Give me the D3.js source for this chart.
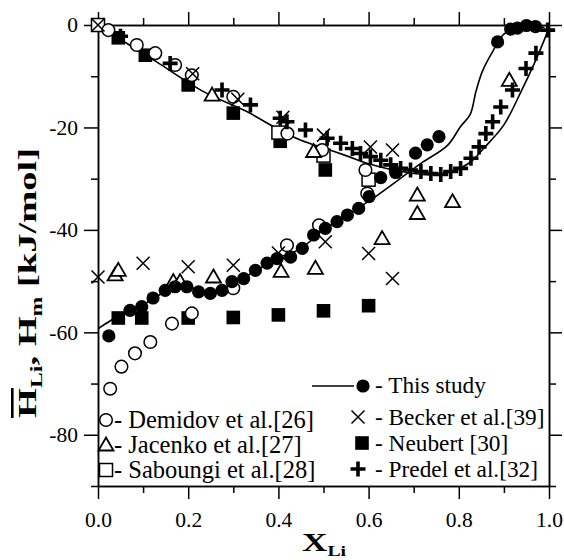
<!DOCTYPE html>
<html><head><meta charset="utf-8">
<script src="https://cdn.jsdelivr.net/npm/d3@7"></script>
<style>
body{margin:0;background:#fff}
svg{display:block}
svg text{font-family:"Liberation Serif","Times New Roman","DejaVu Serif",serif !important;fill:#000}
</style>
</head><body>
<svg id="c" width="564" height="560"></svg>
<script>
// ---------- data ----------
const xTickLabels = [0.0, 0.2, 0.4, 0.6, 0.8, 1.0];
const xMinorTicks = [0.1, 0.3, 0.5, 0.7, 0.9];
const yTickLabels = [0, -20, -40, -60, -80];
const yMinorTicks = [-10, -30, -50, -70, -90];

// This study: integral enthalpy line
const studyIntegralLine = [[0,0],[0.05,-2.8],[0.1,-5.6],[0.13,-7.2],[0.234,-13],[0.33,-16.9],[0.39,-19.9],
  [0.45,-22.5],[0.5,-24],[0.553,-25.6],[0.6,-27.1],[0.65,-28.2],[0.7,-29],[0.75,-29.2],[0.79,-28.4],
  [0.827,-26.7],[0.856,-24],[0.9,-19.5],[0.938,-13],[0.97,-7],[0.997,-1.3]];
// This study: partial enthalpy of Li line
const studyPartialLine = [[0,-59.3],[0.03,-57.6],[0.07,-55.6],[0.1,-54.6],[0.13,-53],[0.17,-51.3],[0.2,-51.2],
  [0.24,-52],[0.28,-51.5],[0.32,-49.5],[0.36,-47.5],[0.4,-45.5],[0.45,-43.6],[0.5,-40],[0.55,-37.3],
  [0.6,-34.4],[0.62,-33.2],[0.67,-30],[0.716,-27],[0.775,-23.5],[0.804,-19.8],[0.825,-17.5],[0.838,-13],
  [0.852,-9.1],[0.875,-5.2],[0.9,-1.8],[0.93,-0.6],[0.96,-0.1],[0.99,-0.5]];
// This study: measured partial enthalpies (filled circles)
const studyPoints = [[0.024,-60.7],[0.071,-55.7],[0.097,-55.0],[0.122,-53.3],[0.149,-51.8],[0.171,-51.1],
  [0.197,-51.1],[0.223,-52.1],[0.249,-52.4],[0.275,-51.8],[0.297,-50.1],[0.323,-49.5],[0.349,-47.9],
  [0.375,-46.5],[0.397,-45.6],[0.427,-45.3],[0.453,-43.6],[0.478,-41.0],[0.504,-39.7],[0.530,-38.4],
  [0.553,-37.1],[0.578,-35.8],[0.601,-33.5],[0.627,-29.8],[0.66,-28.8],[0.704,-25.0],[0.73,-23.4],
  [0.756,-21.8],[0.886,-3.3],[0.915,-0.8],[0.93,-0.6],[0.95,-0.1],[0.97,-0.3]];
const demidov = [[0.023,-1],[0.086,-3.9],[0.127,-5.5],[0.171,-7.8],[0.208,-9.8],[0.3,-14],[0.42,-21.2],
  [0.497,-24.4],[0.593,-28.3],
  [0.027,-71],[0.052,-66.7],[0.082,-64.1],[0.116,-61.9],[0.164,-58.3],[0.208,-56.3],[0.3,-51.4],
  [0.419,-43],[0.49,-39.1],[0.597,-32.9]];
const jacenko = [[0.253,-13.7],[0.478,-24.7],[0.912,-10.8],
  [0.038,-48.8],[0.045,-47.9],[0.167,-50.1],[0.182,-50.1],[0.256,-49.2],[0.406,-48.1],[0.482,-47.5],
  [0.63,-41.7],[0.708,-33.2],[0.708,-36.8],[0.786,-34.5]];
const saboungi = [[0,0],[0.4,-21],[0.5,-25.5],[0.6,-30.2]];
const becker = [[0,0],[0.21,-9.5],[0.31,-14.5],[0.41,-18],[0.5,-21.5],[0.604,-23.8],[0.653,-24.4],
  [0,-49.2],[0.1,-46.5],[0.2,-47.2],[0.3,-46.9],[0.4,-44.5],[0.504,-42.3],[0.6,-44.6],[0.653,-49.5]];
const neubert = [[0.045,-2.5],[0.105,-5.9],[0.2,-11.7],[0.3,-17.2],[0.404,-22.7],[0.504,-28.3],
  [0.045,-57.2],[0.097,-57.2],[0.2,-57.2],[0.3,-57.1],[0.4,-56.6],[0.5,-55.8],[0.6,-54.8]];
const predel = [[0.05,-2.2],[0.16,-7.5],[0.275,-12.7],[0.338,-15.6],[0.404,-18.2],[0.419,-18.9],[0.46,-20.5],
  [0.508,-22.1],[0.538,-23.1],[0.564,-24.1],[0.582,-25.1],[0.604,-25.7],[0.627,-26.4],[0.649,-27.3],
  [0.671,-28],[0.693,-28.3],[0.716,-28.6],[0.738,-29],[0.76,-29.2],[0.782,-28.6],[0.804,-28],[0.827,-26],
  [0.845,-23.8],[0.86,-21.2],[0.875,-18.9],[0.893,-16],[0.919,-12.7],[0.949,-8.5],[0.971,-5.5],[0.997,-1]];

const legendLeft = ["- Demidov et al.[26]", "- Jacenko et al.[27]", "- Saboungi et al.[28]"];
const legendRight = ["- This study", "- Becker et al.[39]", "- Neubert [30]", "- Predel et al.[32]"];

// ---------- layout ----------
const FONT = '"Liberation Serif","Times New Roman","DejaVu Serif",serif';
const L = 98, R = 549, T = 25, B = 486;
const svg = d3.select("#c");
const x = d3.scaleLinear().domain([0, 1]).range([L, R]);
const y = d3.scaleLinear().domain([0, -90]).range([T, B]);

function styleAxis(g){ g.attr("font-family",FONT); g.selectAll("path,line").attr("stroke","#000").attr("stroke-width",1.5); }
const fs = 21.5;
svg.append("g").attr("transform",`translate(0,${B})`)
  .call(d3.axisBottom(x).tickValues(xTickLabels).tickSize(13).tickSizeOuter(0).tickPadding(13).tickFormat(d3.format(".1f")))
  .call(styleAxis).call(g=>g.selectAll("text").attr("font-size",fs));
svg.append("g").attr("transform",`translate(0,${B})`)
  .call(d3.axisBottom(x).tickValues(xMinorTicks).tickSize(7).tickSizeOuter(0).tickFormat(""))
  .call(styleAxis);
svg.append("g").attr("transform",`translate(0,${T})`)
  .call(d3.axisTop(x).tickValues(xTickLabels).tickSize(13).tickSizeOuter(0).tickFormat(""))
  .call(styleAxis);
svg.append("g").attr("transform",`translate(0,${T})`)
  .call(d3.axisTop(x).tickValues(xMinorTicks).tickSize(7).tickSizeOuter(0).tickFormat(""))
  .call(styleAxis);
svg.append("g").attr("transform",`translate(${L},0)`)
  .call(d3.axisLeft(y).tickValues(yTickLabels).tickSize(14).tickSizeOuter(0).tickPadding(6).tickFormat(d3.format("d")))
  .call(styleAxis).call(g=>g.selectAll("text").attr("font-size",fs));
svg.append("g").attr("transform",`translate(${L},0)`)
  .call(d3.axisLeft(y).tickValues(yMinorTicks).tickSize(7).tickSizeOuter(0).tickFormat(""))
  .call(styleAxis);
svg.append("g").attr("transform",`translate(${R},0)`)
  .call(d3.axisRight(y).tickValues(yTickLabels).tickSize(13).tickSizeOuter(0).tickFormat(""))
  .call(styleAxis);
svg.append("g").attr("transform",`translate(${R},0)`)
  .call(d3.axisRight(y).tickValues(yMinorTicks).tickSize(7).tickSizeOuter(0).tickFormat(""))
  .call(styleAxis);
svg.selectAll(".tick text").text(function(){ return this.textContent.replace("\u2212","-"); });

// lines
const lineP = d3.line().x(d=>x(d[0])).y(d=>y(d[1])).curve(d3.curveCatmullRom.alpha(0.5));
svg.append("path").datum(studyIntegralLine).attr("d",lineP).attr("fill","none").attr("stroke","#000").attr("stroke-width",1.6);
svg.append("path").datum(studyPartialLine).attr("d",lineP).attr("fill","none").attr("stroke","#000").attr("stroke-width",1.6);

// marker painters
const mk = {
  circleOpen: (g,cx,cy)=>g.append("circle").attr("cx",cx).attr("cy",cy).attr("r",6.3).attr("fill","#fff").attr("stroke","#000").attr("stroke-width",1.5),
  circleFill: (g,cx,cy)=>g.append("circle").attr("cx",cx).attr("cy",cy).attr("r",6.6).attr("fill","#000"),
  tri: (g,cx,cy)=>g.append("path").attr("d",`M${cx},${cy-7.5}L${cx+7.5},${cy+5.5}L${cx-7.5},${cy+5.5}Z`).attr("fill","#fff").attr("stroke","#000").attr("stroke-width",1.8),
  sqOpen: (g,cx,cy)=>g.append("rect").attr("x",cx-6.5).attr("y",cy-6.5).attr("width",13).attr("height",13).attr("fill","#fff").attr("stroke","#000").attr("stroke-width",1.5),
  sqFill: (g,cx,cy)=>g.append("rect").attr("x",cx-6.8).attr("y",cy-6.8).attr("width",13.6).attr("height",13.6).attr("fill","#000"),
  cross: (g,cx,cy)=>g.append("path").attr("d",`M${cx-6.5},${cy-6.5}L${cx+6.5},${cy+6.5}M${cx+6.5},${cy-6.5}L${cx-6.5},${cy+6.5}`).attr("stroke","#000").attr("stroke-width",1.5).attr("fill","none"),
  plus: (g,cx,cy)=>g.append("path").attr("d",`M${cx-7.5},${cy}L${cx+7.5},${cy}M${cx},${cy-7.5}L${cx},${cy+7.5}`).attr("stroke","#000").attr("stroke-width",3.6).attr("fill","none")
};
function series(data, kind){
  const g = svg.append("g");
  data.forEach(d=>mk[kind](g, x(d[0]), y(d[1])));
}
series(neubert, "sqFill");
series(saboungi, "sqOpen");
series(demidov, "circleOpen");
series(jacenko, "tri");
series(becker, "cross");
series(studyPoints, "circleFill");
series(predel, "plus");

// legend
const lg = svg.append("g").attr("font-family",FONT);
const leftY = [428, 453, 478];
const leftKinds = ["circleOpen","tri","sqOpen"];
legendLeft.forEach((t,i)=>{
  mk[leftKinds[i]](lg, 106, leftY[i]-8);
  lg.append("text").attr("x",114).attr("y",leftY[i]).attr("font-size",24.5).text(t);
});
const rightY = [393, 425, 451, 477];
lg.append("line").attr("x1",312).attr("x2",354).attr("y1",386).attr("y2",386).attr("stroke","#000").attr("stroke-width",1.6);
mk.circleFill(lg, 363, 386);
mk.cross(lg, 358, 417);
mk.sqFill(lg, 362, 443);
mk.plus(lg, 358, 469);
legendRight.forEach((t,i)=>{
  lg.append("text").attr("x",375).attr("y",rightY[i]).attr("font-size",23.3).text(t);
});

// axis titles
const xt = svg.append("text").attr("x",302).attr("y",551).attr("font-weight","bold").attr("font-size",25)
  .attr("font-family",FONT).attr("textLength",44).attr("lengthAdjust","spacingAndGlyphs");
xt.append("tspan").text("X");
xt.append("tspan").attr("font-size",14).attr("dy",5).text("Li");

const yt = svg.append("text").attr("transform","translate(36,283) rotate(-90)").attr("text-anchor","middle")
  .attr("font-family",FONT).attr("font-weight","bold").attr("font-size",26).attr("textLength",270).attr("lengthAdjust","spacingAndGlyphs");
yt.append("tspan").attr("text-decoration","overline").text("H");
yt.append("tspan").attr("font-size",16).attr("dy",6).text("Li");
yt.append("tspan").attr("dy",-6).text(", H");
yt.append("tspan").attr("font-size",16).attr("dy",6).text("m");
yt.append("tspan").attr("dy",-6).text(" [kJ/mol]");
</script>
</body></html>
